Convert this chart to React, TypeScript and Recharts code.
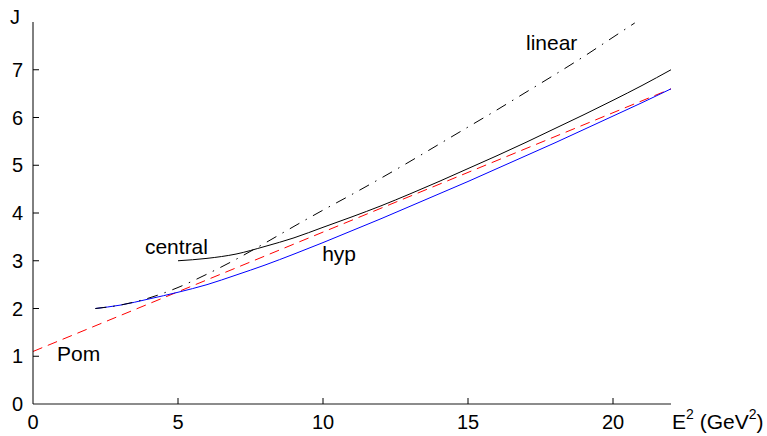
import React from 'react';
import { LineChart, Line, XAxis, YAxis, ReferenceDot } from 'recharts';

// E^2 (GeV^2) grid and J values
const LINEAR_E = [2.15, 3, 4, 5, 6, 7, 8, 9, 10, 11, 12, 13, 14, 15, 16, 17, 18, 19, 20, 20.75];
const LINEAR_J = [2.0, 2.07, 2.22, 2.44, 2.72, 3.03, 3.37, 3.72, 4.06, 4.39, 4.73, 5.08, 5.44, 5.8, 6.16, 6.53, 6.9, 7.28, 7.68, 7.98];

const CENTRAL_E = [5, 6, 7, 8, 9, 10, 11, 12, 13, 14, 15, 16, 17, 18, 19, 20, 21, 22];
const CENTRAL_J = [3.0, 3.05, 3.14, 3.3, 3.48, 3.7, 3.92, 4.15, 4.4, 4.66, 4.93, 5.2, 5.48, 5.77, 6.06, 6.36, 6.67, 7.0];

const HYP_E = [2.15, 3, 4, 5, 6, 7, 8, 9, 10, 11, 12, 13, 14, 15, 16, 17, 18, 19, 20, 21, 22];
const HYP_J = [2.0, 2.07, 2.2, 2.34, 2.5, 2.7, 2.91, 3.14, 3.38, 3.63, 3.88, 4.14, 4.4, 4.66, 4.93, 5.2, 5.47, 5.75, 6.03, 6.31, 6.6];

const POM_E = [0, 22];
const POM_J = [1.1, 6.6];

const X_TICKS = [0, 5, 10, 15, 20];
const Y_TICKS = [0, 1, 2, 3, 4, 5, 6, 7];

const LABELS = ['linear', 'central', 'hyp', 'Pom'];
const LABEL_E = [17.0, 3.86, 9.97, 0.83];
const LABEL_J = [7.42, 3.14, 3.0, 0.9];

const zip = (es: number[], js: number[]) => es.map((e, i) => ({ e, j: js[i] }));

const FONT = '"Liberation Sans", Arial, Helvetica, sans-serif';

const XTick = (props: any) => {
  const { x, y, payload } = props;
  return (
    <g>
      {payload.value !== 0 && <line x1={x} y1={y} x2={x} y2={y - 6} stroke="#000" strokeWidth={1} />}
      <text x={x} y={y + 25} textAnchor="middle" fontSize={20} fontFamily={FONT} fill="#000">
        {payload.value}
      </text>
    </g>
  );
};

const YTick = (props: any) => {
  const { x, y, payload } = props;
  return (
    <g>
      {payload.value !== 0 && <line x1={x} y1={y} x2={x + 6} y2={y} stroke="#000" strokeWidth={1} />}
      <text x={x - 10} y={y + 7} textAnchor="end" fontSize={20} fontFamily={FONT} fill="#000">
        {payload.value}
      </text>
    </g>
  );
};

export default function App() {
  return (
    <div style={{ position: 'absolute', left: 0, top: 0, width: 767, height: 436, background: '#fff' }}>
      <LineChart width={767} height={436} margin={{ top: 22, right: 96, left: 0, bottom: 0 }}>
        <XAxis
          type="number"
          dataKey="e"
          domain={[0, 22]}
          ticks={X_TICKS}
          height={32}
          tickSize={0}
          tickMargin={0}
          tickLine={false}
          axisLine={{ stroke: '#666', strokeWidth: 1.5 }}
          tick={<XTick />}
          interval={0}
        />
        <YAxis
          type="number"
          dataKey="j"
          domain={[0, 8]}
          ticks={Y_TICKS}
          width={33}
          tickSize={0}
          tickMargin={0}
          tickLine={false}
          axisLine={{ stroke: '#000', strokeWidth: 1 }}
          tick={<YTick />}
          interval={0}
        />
        <Line
          data={zip(POM_E, POM_J)}
          dataKey="j"
          type="linear"
          stroke="#ff0000"
          strokeWidth={1}
          strokeDasharray="10 6"
          dot={false}
          activeDot={false}
          isAnimationActive={false}
        />
        <Line
          data={zip(HYP_E, HYP_J)}
          dataKey="j"
          type="monotone"
          stroke="#0000ff"
          strokeWidth={1}
          dot={false}
          activeDot={false}
          isAnimationActive={false}
        />
        <Line
          data={zip(CENTRAL_E, CENTRAL_J)}
          dataKey="j"
          type="monotone"
          stroke="#000"
          strokeWidth={1}
          dot={false}
          activeDot={false}
          isAnimationActive={false}
        />
        <Line
          data={zip(LINEAR_E, LINEAR_J)}
          dataKey="j"
          type="monotone"
          stroke="#000"
          strokeWidth={1}
          strokeDasharray="11 7 1.5 7"
          dot={false}
          activeDot={false}
          isAnimationActive={false}
        />
        {LABELS.map((t, i) => (
          <ReferenceDot
            key={t}
            x={LABEL_E[i]}
            y={LABEL_J[i]}
            r={0}
            shape={(p: any) => (
              <text x={p.cx} y={p.cy} fontSize={21} fontFamily={FONT} fill="#000">
                {t}
              </text>
            )}
          />
        ))}
      </LineChart>
      <svg width={767} height={436} style={{ position: 'absolute', left: 0, top: 0, pointerEvents: 'none' }}>
        <text x={15} y={24} textAnchor="middle" fontSize={20} fontFamily={FONT} fill="#000">J</text>
        <text x={672} y={429} fontSize={21} fontFamily={FONT} fill="#000">
          E<tspan fontSize={14} dy={-10}>2</tspan>
          <tspan dy={10}> (GeV</tspan>
          <tspan fontSize={14} dy={-10}>2</tspan>
          <tspan dy={10}>)</tspan>
        </text>
      </svg>
    </div>
  );
}
